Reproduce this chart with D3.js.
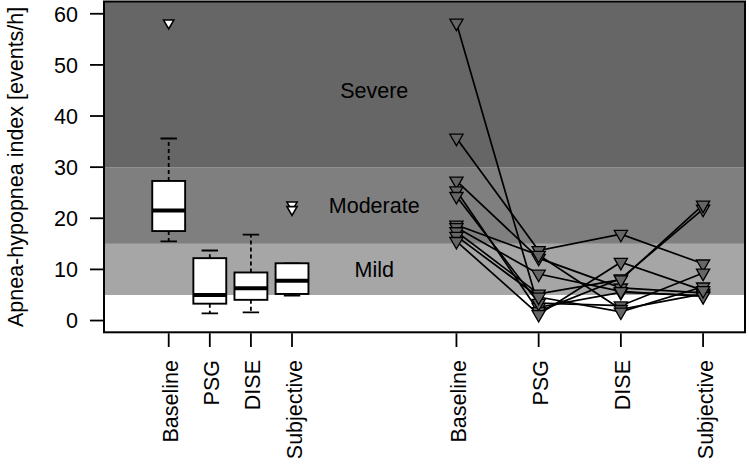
<!DOCTYPE html>
<html>
<head>
<meta charset="utf-8">
<script src="https://cdn.jsdelivr.net/npm/d3@7"></script>
<style>
html,body{margin:0;padding:0;background:#fff;}
svg text{font-family:"Liberation Sans",Arial,Helvetica,sans-serif;}
</style>
</head>
<body>
<svg id="chart" width="749" height="464"></svg>
<script>
// ---- data ----
const groups = ["Baseline", "PSG", "DISE", "Subjective"];
const boxPos = [1, 2, 3, 4];
const pointPos = [8, 10, 12, 14];
// boxplot statistics: lower whisker, Q1, median, Q3, upper whisker
const boxLow = [15.5, 1.4, 1.6, 4.9];
const boxQ1 = [17.5, 3.3, 4.05, 5.2];
const boxMed = [21.5, 5.0, 6.3, 7.8];
const boxQ3 = [27.3, 12.2, 9.4, 11.2];
const boxHigh = [35.6, 13.7, 16.8, 11.2];
const boxOutliers = [[58.2], [], [], [22.6, 21.7]];
// individual patients: Baseline, PSG, DISE, Subjective
const patients = [
  [58.2, 2.6, 5.5, 4.9],
  [35.7, 13.7, 16.9, 11.1],
  [27.3, 12.2, 6.4, 5.4],
  [25.4, 1.8, 8.2, 21.8],
  [24.3, 3.4, 2.9, 9.3],
  [18.7, 12.8, 2.2, 5.2],
  [18.2, 9.1, 5.7, 4.7],
  [17.4, 5.2, 8.0, 22.6],
  [16.5, 4.6, 1.7, 6.6],
  [15.5, 1.2, 11.4, 5.9]
];
const bandLimits = [[30, 62.4], [15, 30], [5, 15]];
const bandNames = ["Severe", "Moderate", "Mild"];
const bandLabelY = [45, 22.5, 10];
const bandColors = ["#666666", "#7f7f7f", "#a6a6a6"];
const yTicks = [0, 10, 20, 30, 40, 50, 60];
const yTitle = "Apnea-hypopnea index [events/h]";

// ---- layout ----
const L = 104, R = 745, T = 1.5, B = 332.3;
const FS = 21.5;
const svg = d3.select("#chart");
const x = d3.scaleLinear().domain([-0.574, 15.02]).range([L, R]);
const y = d3.scaleLinear().domain([-2.3, 62.4]).range([B, T]);

svg.append("defs").append("clipPath").attr("id", "clip")
  .append("rect").attr("x", L).attr("y", T).attr("width", R - L).attr("height", B - T);

const plot = svg.append("g").attr("clip-path", "url(#clip)");

// bands
plot.selectAll("rect.band").data(bandLimits).join("rect")
  .attr("class", "band")
  .attr("x", L).attr("width", R - L)
  .attr("y", d => y(d[1])).attr("height", d => y(d[0]) - y(d[1]))
  .attr("fill", (d, i) => bandColors[i]);

// band labels
plot.selectAll("text.bl").data(bandNames).join("text")
  .attr("class", "bl")
  .attr("x", x(6)).attr("y", (d, i) => y(bandLabelY[i]))
  .attr("dy", "0.36em")
  .attr("text-anchor", "middle")
  .attr("font-size", FS)
  .attr("fill", "#000")
  .text(d => d);

// triangle path (pointing down), centroid at 0,0
function tri(s) {
  const h = s / Math.sqrt(3);
  return `M${-s},${-h}L${s},${-h}L0,${2 * h}Z`;
}

// boxplots
const bw = x(1.4) - x(1); // half box width (boxwex 0.8)
groups.forEach((g, i) => {
  const cx = x(boxPos[i]);
  const gb = plot.append("g");
  // whiskers
  if (boxHigh[i] > boxQ3[i]) {
    gb.append("line").attr("x1", cx).attr("x2", cx)
      .attr("y1", y(boxQ3[i])).attr("y2", y(boxHigh[i]))
      .attr("stroke", "#000").attr("stroke-width", 1.8).attr("stroke-dasharray", "4,3");
  }
  gb.append("line").attr("x1", cx).attr("x2", cx)
    .attr("y1", y(boxQ1[i])).attr("y2", y(boxLow[i]))
    .attr("stroke", "#000").attr("stroke-width", 1.8).attr("stroke-dasharray", "4,3");
  // caps
  [boxLow[i], boxHigh[i]].forEach(v => {
    gb.append("line").attr("x1", cx - bw / 2).attr("x2", cx + bw / 2)
      .attr("y1", y(v)).attr("y2", y(v))
      .attr("stroke", "#000").attr("stroke-width", 1.8);
  });
  // box
  gb.append("rect").attr("x", cx - bw).attr("width", 2 * bw)
    .attr("y", y(boxQ3[i])).attr("height", y(boxQ1[i]) - y(boxQ3[i]))
    .attr("fill", "#fff").attr("stroke", "#000").attr("stroke-width", 1.9);
  // median
  gb.append("line").attr("x1", cx - bw).attr("x2", cx + bw)
    .attr("y1", y(boxMed[i])).attr("y2", y(boxMed[i]))
    .attr("stroke", "#000").attr("stroke-width", 4);
  // outliers
  gb.selectAll("path").data(boxOutliers[i]).join("path")
    .attr("d", tri(5.1))
    .attr("transform", d => `translate(${cx},${y(d)})`)
    .attr("fill", "#fff").attr("stroke", "#000").attr("stroke-width", 1.6);
});

// patient lines
const line = d3.line().x((d, j) => x(pointPos[j])).y(d => y(d));
plot.selectAll("path.pl").data(patients).join("path")
  .attr("class", "pl")
  .attr("d", line)
  .attr("fill", "none").attr("stroke", "#000").attr("stroke-width", 1.7);

// patient points
patients.forEach(p => {
  plot.selectAll(null).data(p).join("path")
    .attr("d", tri(6.6))
    .attr("transform", (d, j) => `translate(${x(pointPos[j])},${y(d)})`)
    .attr("fill", "#666666").attr("stroke", "#000").attr("stroke-width", 1.3);
});

// frame
svg.append("rect").attr("x", L).attr("y", T).attr("width", R - L).attr("height", B - T)
  .attr("fill", "none").attr("stroke", "#000").attr("stroke-width", 2);

// y axis ticks
const ya = svg.append("g");
ya.selectAll("line").data(yTicks).join("line")
  .attr("x1", 90).attr("x2", L).attr("y1", d => y(d)).attr("y2", d => y(d))
  .attr("stroke", "#000").attr("stroke-width", 1.8);
ya.selectAll("text").data(yTicks).join("text")
  .attr("x", 78).attr("y", d => y(d)).attr("dy", "0.36em")
  .attr("text-anchor", "end").attr("font-size", FS).text(d => d);

// y title
svg.append("text")
  .attr("transform", `translate(23,${(T + B) / 2}) rotate(-90)`)
  .attr("text-anchor", "middle").attr("font-size", FS).text(yTitle);

// x axis ticks and labels
const allPos = boxPos.concat(pointPos);
const allLabels = groups.concat(groups);
const xa = svg.append("g");
xa.selectAll("line").data(allPos).join("line")
  .attr("x1", d => x(d)).attr("x2", d => x(d)).attr("y1", B + 1).attr("y2", 347)
  .attr("stroke", "#000").attr("stroke-width", 1.8);
xa.selectAll("text").data(allPos).join("text")
  .attr("transform", d => `translate(${x(d) + 9.5},360) rotate(-90)`)
  .attr("text-anchor", "end").attr("font-size", FS)
  .text((d, i) => allLabels[i]);
</script>
</body>
</html>
